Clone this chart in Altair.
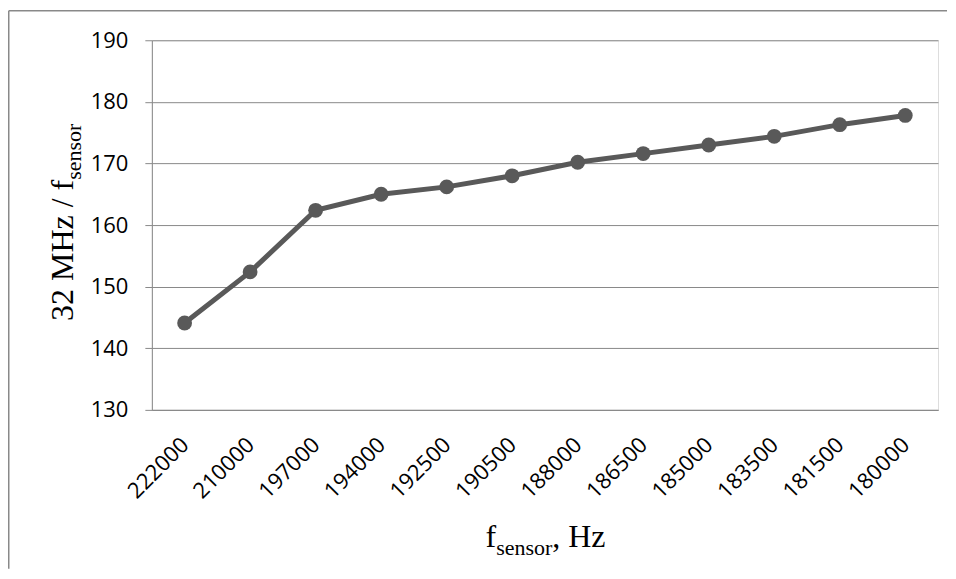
import altair as alt
import pandas as pd

# ---- data ----
freq_labels = ["222000", "210000", "197000", "194000", "192500", "190500",
               "188000", "186500", "185000", "183500", "181500", "180000"]
ratio_values = [144.1, 152.4, 162.4, 165.0, 166.2, 168.0,
                170.2, 171.6, 173.0, 174.4, 176.3, 177.8]
y_ticks = [130, 140, 150, 160, 170, 180, 190]
y_domain = [130, 190]

y_title_main = ["32 MHz / f"]
y_title_sub = ["sensor"]
x_title_main = ["f"]
x_title_sub = ["sensor"]
x_title_tail = [", Hz"]

df = pd.DataFrame({"freq": freq_labels, "ratio": ratio_values})

W, H = 787, 370
GREY = "#898989"
DARK = "#595959"
SERIF = "Liberation Serif"
SANS = "Open Sans"
L = 32   # main title font size
S = 22   # subscript font size

x_enc = alt.X(
    "freq:O", sort=freq_labels,
    scale=alt.Scale(type="point", padding=0.5),
    axis=alt.Axis(title=None, labelAngle=-45, labelAlign="right", labelBaseline="top",
                  labelFont=SANS, labelFontSize=22, labelColor="black",
                  ticks=False, domainColor=GREY, domainWidth=1,
                  labelPadding=24, labelOffset=-7),
)
y_enc = alt.Y(
    "ratio:Q", scale=alt.Scale(domain=y_domain, nice=False, zero=False),
    axis=alt.Axis(values=y_ticks, title=None, grid=True, gridColor=GREY, gridWidth=1,
                  tickColor=GREY, tickSize=7, tickWidth=1, domainColor=GREY, domainWidth=1,
                  labelFont=SANS, labelFontSize=22, labelColor="black", labelPadding=17),
)

base = alt.Chart(df)
line = base.mark_line(color=DARK, strokeWidth=5).encode(x=x_enc, y=y_enc)
pts = base.mark_point(filled=True, color=DARK, size=220, opacity=1).encode(x=x_enc, y=y_enc)


def txt(values, x, y, size, angle=0):
    return alt.Chart(pd.DataFrame({"t": values})).mark_text(
        font=SERIF, fontSize=size, angle=angle, align="left",
        baseline="alphabetic", color="black"
    ).encode(x=alt.value(x), y=alt.value(y), text="t:N")


# y title (rotated, reading bottom to top)
y_main_len = 4.416 * L
yt1 = txt(y_title_main, -79, 281, L, angle=270)
yt2 = txt(y_title_sub, -71, 281 - y_main_len, S, angle=270)

# x title
xf = 334
xt1 = txt(x_title_main, xf, 507, L)
xt2 = txt(x_title_sub, xf + 0.333 * L, 515, S)
xt3 = txt(x_title_tail, xf + 0.333 * L + 2.555 * S, 507, L)

# outer frame (top and left edges visible in the reference)
one = pd.DataFrame({"k": [0]})
frame_top = alt.Chart(one).mark_rule(color=GREY, strokeWidth=1.5).encode(
    x=alt.value(-143.25), x2=alt.value(796), y=alt.value(-29.5))
frame_left = alt.Chart(one).mark_rule(color=GREY, strokeWidth=1.5).encode(
    x=alt.value(-143.25), y=alt.value(-29.5), y2=alt.value(529))

chart = alt.layer(line, pts, yt1, yt2, xt1, xt2, xt3, frame_top, frame_left).properties(
    width=W, height=H,
    padding={"left": 0, "top": 1, "right": 0, "bottom": 0},
).configure_view(stroke=None).configure(background="white")

chart.save("out.html", embed_options={"renderer": "svg", "actions": False})
